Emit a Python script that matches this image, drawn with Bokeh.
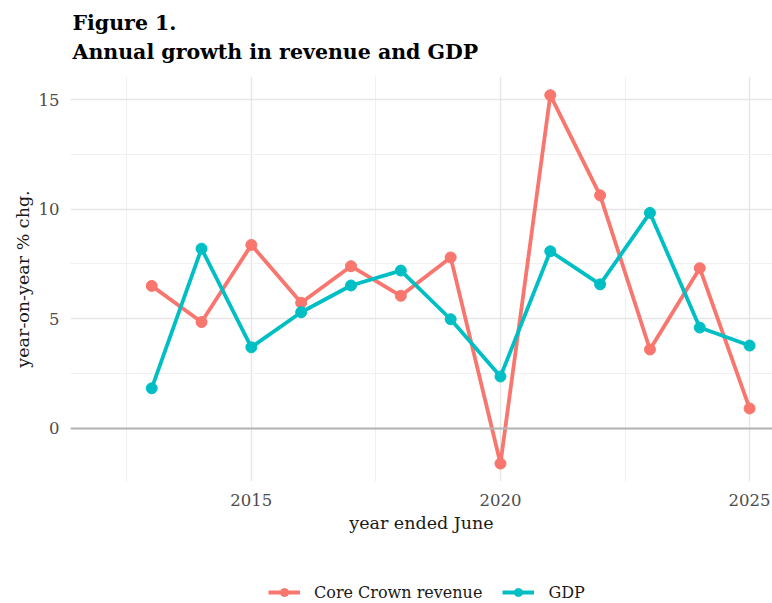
from bokeh.plotting import figure
from bokeh.layouts import column
from bokeh.models import (Label, Legend, LegendItem, FixedTicker, Span, Range1d)
from bokeh.embed import file_html
from bokeh.resources import INLINE

years = [2013, 2014, 2015, 2016, 2017, 2018, 2019, 2020, 2021, 2022, 2023, 2024, 2025]
revenue = [6.5, 4.85, 8.37, 5.73, 7.4, 6.05, 7.8, -1.6, 15.2, 10.63, 3.6, 7.31, 0.91]
gdp = [1.83, 8.2, 3.7, 5.3, 6.52, 7.2, 4.98, 2.37, 8.08, 6.57, 9.83, 4.6, 3.78]
series_names = ["Core Crown revenue", "GDP"]
colors = ["#F8766D", "#00BFC4"]
y_ticks = [0, 5, 10, 15]
x_ticks = [2015, 2020, 2025]
title_lines = ["Figure 1.", "Annual growth in revenue and GDP"]

SERIF = "DejaVu Serif"


def blank_strip(h):
    f = figure(width=772, height=h, output_backend="svg", toolbar_location=None,
               x_range=Range1d(0, 1), y_range=Range1d(0, 1),
               min_border_left=0, min_border_right=0, min_border_top=0, min_border_bottom=0)
    f.axis.visible = False
    f.grid.visible = False
    f.outline_line_color = None
    f.title = None
    return f


# title strip
top = blank_strip(76)
for txt, yb in zip(title_lines, [54, 25]):
    top.add_layout(Label(x=2, y=yb, x_units="screen", y_units="screen", text=txt,
                         text_font=SERIF, text_font_size="20.5px", text_font_style="bold",
                         text_color="black", text_baseline="alphabetic", text_align="left"))

# main plot
p = figure(width=772, height=477, output_backend="svg", toolbar_location=None,
           x_range=Range1d(2011.37, 2025.46), y_range=Range1d(-2.42, 16.05),
           min_border_left=70, min_border_right=0, min_border_top=0, min_border_bottom=72)
p.title = None
p.outline_line_color = None
p.background_fill_color = "white"
p.border_fill_color = "white"

p.xaxis.ticker = FixedTicker(ticks=x_ticks, minor_ticks=[2012.5, 2017.5, 2022.5])
p.yaxis.ticker = FixedTicker(ticks=y_ticks, minor_ticks=[2.5, 7.5, 12.5])
for g in (p.xgrid, p.ygrid):
    g.grid_line_color = "#e6e6e6"
    g.grid_line_width = 1.4
    g.minor_grid_line_color = "#f0f0f0"
    g.minor_grid_line_width = 1.0

for ax in (p.xaxis, p.yaxis):
    ax.axis_line_color = None
    ax.major_tick_line_color = None
    ax.minor_tick_line_color = None
    ax.major_label_text_font = SERIF
    ax.major_label_text_font_size = "16.5px"
    ax.major_label_text_color = "#4d4d4d"
    ax.axis_label_text_font = SERIF
    ax.axis_label_text_font_size = "17.5px"
    ax.axis_label_text_font_style = "normal"
    ax.axis_label_text_color = "#1a1a1a"

p.xaxis.axis_label = "year ended June"
p.yaxis.axis_label = "year-on-year % chg."
p.xaxis.major_label_standoff = 6
p.xaxis.axis_label_standoff = 4
p.yaxis.major_label_standoff = 5
p.yaxis.axis_label_standoff = 3

p.add_layout(Span(location=0, dimension="width", line_color="#b3b3b3", line_width=2))

for name, vals, col in zip(series_names, [revenue, gdp], colors):
    p.line(years, vals, line_color=col, line_width=3.8)
    p.scatter(years, vals, size=11, fill_color=col, line_color=col)

# legend strip
lg = blank_strip(50)
items = []
for name, col in zip(series_names, colors):
    l = lg.line([-10, -9], [-10, -10], line_color=col, line_width=3.8)
    c = lg.scatter([-10], [-10], size=11, fill_color=col, line_color=col)
    items.append(LegendItem(label=name, renderers=[l, c]))
legend = Legend(items=items, orientation="horizontal", location=(198, 1),
                label_text_font=SERIF, label_text_font_size="16px",
                label_text_color="#1a1a1a", border_line_color=None,
                background_fill_alpha=0, glyph_width=32, spacing=20,
                margin=0, padding=0)
legend.label_standoff = 14
lg.add_layout(legend, "center")

layout = column(top, p, lg, spacing=0)
open("out.html", "w").write(file_html(layout, INLINE))
